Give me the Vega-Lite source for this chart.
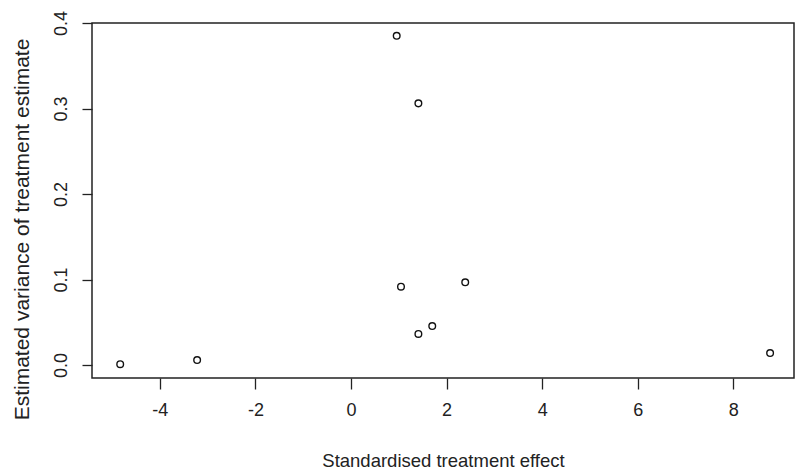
{
  "$schema": "https://vega.github.io/schema/vega-lite/v6.json",
  "width": 702,
  "height": 355,
  "autosize": {"type": "none"},
  "padding": {"left": 92, "top": 23, "right": 6, "bottom": 93},
  "background": "white",
  "config": {
    "view": {"stroke": "#222222", "strokeWidth": 1.5},
    "font": "Liberation Sans"
  },
  "data": {
    "values": [
      {"effect": 0.956, "variance": 0.385},
      {"effect": 1.41, "variance": 0.306},
      {"effect": 1.046, "variance": 0.0916},
      {"effect": 2.39, "variance": 0.0967},
      {"effect": 1.70, "variance": 0.0456},
      {"effect": 1.41, "variance": 0.0363},
      {"effect": -4.83, "variance": 0.001},
      {"effect": -3.22, "variance": 0.0058},
      {"effect": 8.77, "variance": 0.014}
    ]
  },
  "mark": {"type": "point", "shape": "circle", "filled": false, "stroke": "#111111", "strokeWidth": 1.4, "size": 44, "opacity": 1},
  "encoding": {
    "x": {
      "field": "effect",
      "type": "quantitative",
      "scale": {"domain": [-5.42, 9.27], "nice": false, "zero": false},
      "axis": {
        "title": "Standardised treatment effect",
        "values": [-4, -2, 0, 2, 4, 6, 8],
        "labelExpr": "datum.value < 0 ? '-' + abs(datum.value) : '' + datum.value",
        "grid": false,
        "domain": false,
        "ticks": true,
        "tickSize": 11,
        "tickWidth": 1.3,
        "tickColor": "#222222",
        "labelFont": "Liberation Sans",
        "labelFontSize": 18,
        "labelColor": "#222222",
        "labelPadding": 12,
        "labelBaseline": "top",
        "titleFont": "Liberation Sans",
        "titleFontSize": 18.5,
        "titleFontWeight": "normal",
        "titleColor": "#222222",
        "titleBaseline": "middle",
        "titleY": 82
      }
    },
    "y": {
      "field": "variance",
      "type": "quantitative",
      "scale": {"domain": [-0.0152, 0.4], "nice": false, "zero": false},
      "axis": {
        "title": "Estimated variance of treatment estimate",
        "values": [0, 0.1, 0.2, 0.3, 0.4],
        "format": ".1f",
        "grid": false,
        "domain": false,
        "ticks": true,
        "tickSize": 10,
        "tickWidth": 1.3,
        "tickColor": "#222222",
        "labelFont": "Liberation Sans",
        "labelFontSize": 18,
        "labelColor": "#222222",
        "labelAngle": -90,
        "labelAlign": "center",
        "labelBaseline": "bottom",
        "labelPadding": 12,
        "titleFont": "Liberation Sans",
        "titleFontSize": 21,
        "titleFontWeight": "normal",
        "titleColor": "#222222",
        "titleAngle": -90,
        "titleAlign": "center",
        "titleBaseline": "middle",
        "titleX": -70,
        "titleY": 206
      }
    }
  }
}
